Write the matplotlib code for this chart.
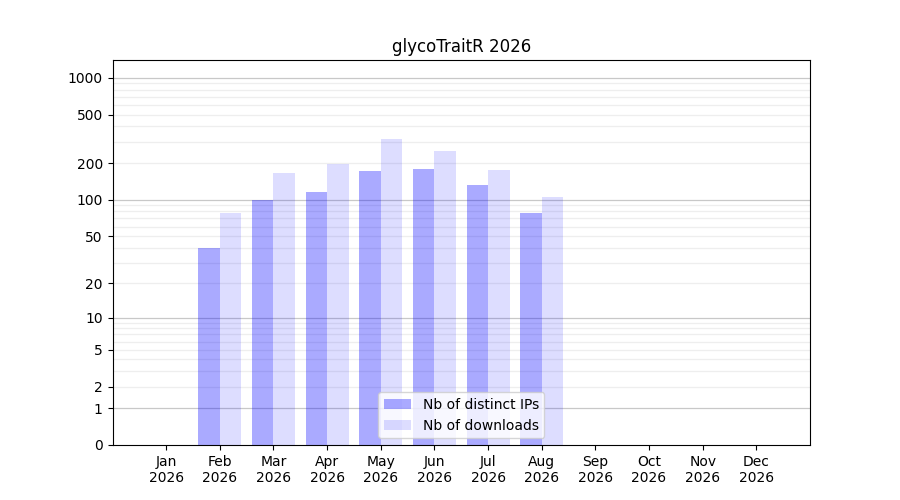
import numpy as np
import matplotlib.pyplot as plt

# monthly stats (Jan..Dec 2026), empty months = no data
months = ['Jan', 'Feb', 'Mar', 'Apr', 'May', 'Jun', 'Jul', 'Aug', 'Sep', 'Oct', 'Nov', 'Dec']
year = 2026
nb_ips = [0, 40, 100, 116, 173, 179, 133, 78, 0, 0, 0, 0]
nb_downloads = [0, 78, 166, 197, 317, 252, 176, 106, 0, 0, 0, 0]

x = np.arange(1, 13)
w = 0.4

# log(1+y) scale
def fwd(v):
    return np.log10(1 + np.clip(v, 0, None))

def inv(v):
    return 10**v - 1

fig, ax = plt.subplots(figsize=(9, 5), dpi=100)
ax.set_yscale('function', functions=(fwd, inv))

ax.bar(x - w/2, nb_ips, w, color='blue', alpha=0.333, label='Nb of distinct IPs')
ax.bar(x + w/2, nb_downloads, w, color='blue', alpha=0.133, label='Nb of downloads')

major = [1, 10, 100, 1000]
minor = [m * 10**k for k in range(3) for m in range(2, 10)]
ax.set_yticks([0, 1, 2, 5, 10, 20, 50, 100, 200, 500, 1000])
ax.set_yticklabels(['0', '1', '2', '5', '10', '20', '50', '100', '200', '500', '1000'])
ax.set_yticks(minor, minor=True)
ax.tick_params(axis='y', which='minor', length=0)
for v in major:
    ax.axhline(v, color='#c8c8c8', lw=0.9, zorder=0.5)
for v in minor:
    ax.axhline(v, color='#eeeeee', lw=0.9, zorder=0.5)

ax.set_ylim(0, 1400)
ax.set_xlim(0, 13)
ax.set_xticks(x)
ax.set_xticklabels(['%s\n%d' % (m, year) for m in months])
ax.set_title('glycoTraitR %d' % year)
ax.legend(loc='lower center')

plt.savefig('out.png')
